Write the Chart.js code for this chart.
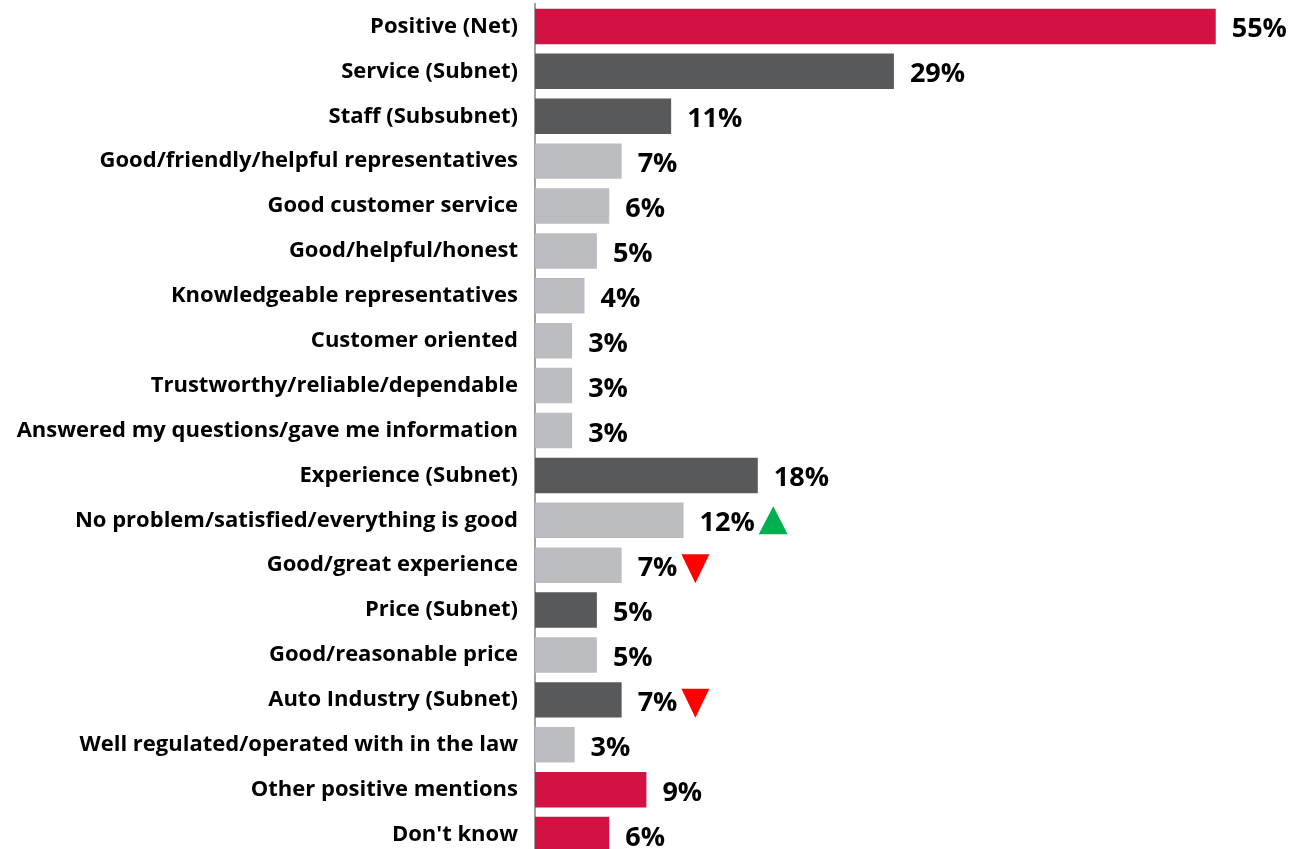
<!DOCTYPE html>
<html>
<head>
<meta charset="utf-8">
<script src="https://cdn.jsdelivr.net/npm/chart.js@4/dist/chart.umd.min.js"></script>
<style>
    html, body { margin: 0; padding: 0; background: #fff; overflow: hidden; }
    #wrap { width: 1290px; height: 857px; }
</style>
</head>
<body>
<div id="wrap"><canvas id="topicChart" width="1290" height="857"></canvas></div>
<script>
// Chart data
const categories = [
    'Positive (Net)',
    'Service (Subnet)',
    'Staff (Subsubnet)',
    'Good/friendly/helpful representatives',
    'Good customer service',
    'Good/helpful/honest',
    'Knowledgeable representatives',
    'Customer oriented',
    'Trustworthy/reliable/dependable',
    'Answered my questions/gave me information',
    'Experience (Subnet)',
    'No problem/satisfied/everything is good',
    'Good/great experience',
    'Price (Subnet)',
    'Good/reasonable price',
    'Auto Industry (Subnet)',
    'Well regulated/operated with in the law',
    'Other positive mentions',
    "Don't know"
];
const values = [55, 29, 11, 7, 6, 5, 4, 3, 3, 3, 18, 12, 7, 5, 5, 7, 3.2, 9, 6];
const valueLabels = ['55%', '29%', '11%', '7%', '6%', '5%', '4%', '3%', '3%', '3%', '18%', '12%', '7%', '5%', '5%', '7%', '3%', '9%', '6%'];
const rowLevel = ['net', 'subnet', 'subnet', 'item', 'item', 'item', 'item', 'item', 'item', 'item',
                  'subnet', 'item', 'item', 'subnet', 'item', 'subnet', 'item', 'net', 'net'];
const trend = ['', '', '', '', '', '', '', '', '', '', '', 'up', 'down', '', '', 'down', '', '', ''];

const levelColors = { net: '#D11242', subnet: '#58595B', item: '#BCBDC0' };
const LABEL_FONT = 'bold 27px "Open Sans"';

// draws the value labels and the up/down markers next to each bar
const valueLabelPlugin = {
    id: 'valueLabels',
    afterDatasetsDraw(chart) {
        const ctx = chart.ctx;
        const meta = chart.getDatasetMeta(0);
        ctx.save();
        ctx.font = LABEL_FONT;
        ctx.textAlign = 'left';
        ctx.textBaseline = 'alphabetic';
        meta.data.forEach((bar, i) => {
            const tx = bar.x + 16;
            ctx.fillStyle = '#000';
            ctx.fillText(valueLabels[i], tx, bar.y + 11);
            const w = ctx.measureText(valueLabels[i]).width;
            const ax = tx + w + 4;
            if (trend[i] === 'up') {
                ctx.fillStyle = '#00B050';
                ctx.beginPath();
                ctx.moveTo(ax, bar.y + 14);
                ctx.lineTo(ax + 29, bar.y + 14);
                ctx.lineTo(ax + 14.5, bar.y - 14);
                ctx.closePath();
                ctx.fill();
            } else if (trend[i] === 'down') {
                ctx.fillStyle = '#FF0000';
                ctx.beginPath();
                ctx.moveTo(ax, bar.y - 11);
                ctx.lineTo(ax + 28, bar.y - 11);
                ctx.lineTo(ax + 14, bar.y + 18);
                ctx.closePath();
                ctx.fill();
            }
        });
        ctx.restore();
    }
};

const chartCtx = document.getElementById('topicChart');
new Chart(chartCtx, {
    type: 'bar',
    data: {
        labels: categories,
        datasets: [{
            data: values,
            backgroundColor: rowLevel.map(l => levelColors[l]),
            borderWidth: 0,
            barPercentage: 0.79,
            categoryPercentage: 1
        }]
    },
    options: {
        indexAxis: 'y',
        responsive: false,
        animation: false,
        layout: { padding: { top: 4, right: 0, bottom: 0, left: 0 } },
        plugins: {
            legend: { display: false },
            tooltip: { enabled: false }
        },
        scales: {
            x: {
                display: false,
                min: 0,
                max: 61
            },
            y: {
                afterFit: (scale) => {
                    scale.width = 535;
                    // don't let the label half-heights push the chart area in
                    scale.paddingTop = 0;
                    scale.paddingBottom = 0;
                },
                grid: { display: false, drawTicks: false },
                border: { display: true, color: '#A0A0A0', width: 2 },
                ticks: {
                    color: '#000',
                    padding: 17,
                    font: { family: 'Open Sans', weight: 'bold', size: 22 }
                }
            }
        }
    },
    plugins: [valueLabelPlugin]
});
</script>
</body>
</html>
